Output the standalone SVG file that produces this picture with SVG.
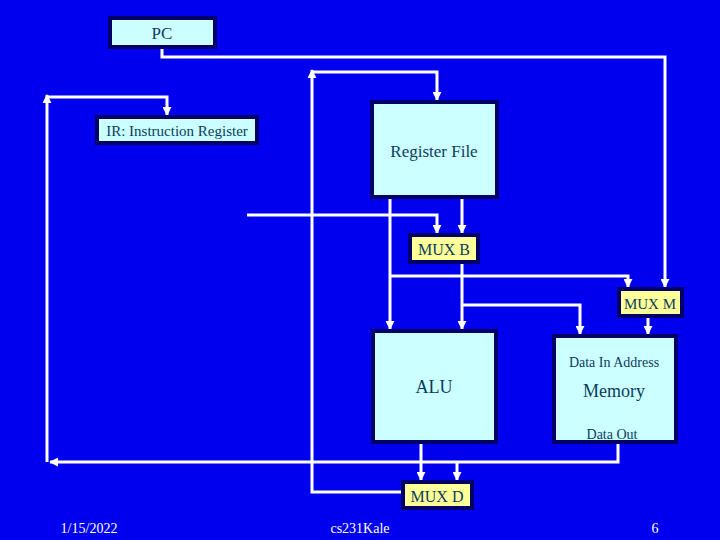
<svg xmlns="http://www.w3.org/2000/svg" width="720" height="540" viewBox="0 0 720 540">
<style>
.b{fill:#ccffff;stroke:#000066;stroke-width:4}
.y{fill:#ffff99;stroke:#000066;stroke-width:4}
text{font-family:"Liberation Serif",serif;fill:#0b3c5d;text-anchor:middle}
.c path{fill:none;stroke:#fff;stroke-width:3}
.f{fill:#fff;font-size:14px}
</style>
<defs><marker id="a" viewBox="0 0 10 10" refX="9" refY="5" markerWidth="3" markerHeight="3" orient="auto"><path d="M0,0L10,5L0,10z" fill="#fff"/></marker></defs>
<rect width="720" height="540" fill="#0000ee"/>
<g class="c">
<path d="M162,47V57H665V287" marker-end="url(#a)"/>
<path d="M47,462V95" marker-end="url(#a)"/>
<path d="M47,97H167V115" marker-end="url(#a)"/>
<path d="M618,442V462H50" marker-end="url(#a)"/>
<path d="M457,462V480" marker-end="url(#a)"/>
<path d="M421,442V480" marker-end="url(#a)"/>
<path d="M403,492H312V70" marker-end="url(#a)"/>
<path d="M312,72H437V100" marker-end="url(#a)"/>
<path d="M390,197V329" marker-end="url(#a)"/>
<path d="M462,197V233" marker-end="url(#a)"/>
<path d="M247,215H437V233" marker-end="url(#a)"/>
<path d="M462,262V329" marker-end="url(#a)"/>
<path d="M462,305H580V334" marker-end="url(#a)"/>
<path d="M390,276H628V287" marker-end="url(#a)"/>
<path d="M648,316V334" marker-end="url(#a)"/>
</g>
<g id="pc"><rect class="b" x="110" y="18" width="105" height="29"/><text x="162" y="39" font-size="17">PC</text></g>
<g id="ir"><rect class="b" x="97" y="117" width="160" height="26"/><text x="177" y="136" font-size="15">IR: Instruction Register</text></g>
<g id="rf"><rect class="b" x="372" y="102" width="125" height="95"/><text x="434" y="157" font-size="17">Register File</text></g>
<g id="muxb"><rect class="y" x="410" y="235" width="68" height="27"/><text x="444" y="255" font-size="16">MUX B</text></g>
<g id="muxm"><rect class="y" x="619" y="289" width="63" height="27"/><text x="650" y="309" font-size="15">MUX M</text></g>
<g id="alu"><rect class="b" x="373" y="331" width="123" height="111"/><text x="434" y="393" font-size="18">ALU</text></g>
<g id="mem"><rect class="b" x="554" y="336" width="122" height="106"/><text x="614" y="367" font-size="14">Data In   Address</text><text x="614" y="397" font-size="18">Memory</text><text x="612" y="439" font-size="14">Data Out</text></g>
<g id="muxd"><rect class="y" x="403" y="482" width="69" height="26"/><text x="437" y="502" font-size="16">MUX D</text></g>
<text class="f" x="89" y="533" style="fill:#fff">1/15/2022</text>
<text class="f" x="360" y="533" style="fill:#fff">cs231Kale</text>
<text class="f" x="655" y="533" style="fill:#fff">6</text>
</svg>
